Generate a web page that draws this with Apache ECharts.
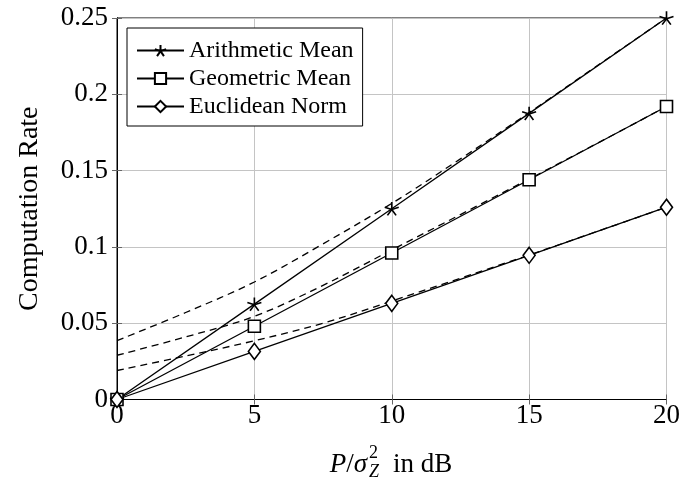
<!DOCTYPE html>
<html>
<head>
<meta charset="utf-8">
<script src="https://cdn.jsdelivr.net/npm/echarts@6/dist/echarts.min.js"></script>
<style>
html,body{margin:0;padding:0;background:#fff;}
#chart{width:683px;height:481px;}
</style>
</head>
<body>
<div id="chart"></div>
<script>
// ---- data ----
const snrDb = [0, 5, 10, 15, 20];
const arithmeticMean = [0, 0.0625, 0.125, 0.1875, 0.25];
const geometricMean = [0, 0.048, 0.096, 0.144, 0.192];
const euclideanNorm = [0, 0.0315, 0.063, 0.0945, 0.126];

const approxSnrDb = [0, 2.5, 5, 7.5, 10, 12.5, 15, 17.5, 20];
const arithmeticApprox = [0.0386, 0.0570, 0.0770, 0.1020, 0.1285, 0.1577, 0.1880, 0.2190, 0.2500];
const geometricApprox = [0.0290, 0.0410, 0.0545, 0.0748, 0.0980, 0.1212, 0.1445, 0.1681, 0.1920];
const euclideanApprox = [0.0190, 0.0285, 0.0385, 0.0500, 0.0645, 0.0795, 0.0947, 0.1103, 0.1260];

const xTicks = [0, 5, 10, 15, 20];
const yTicks = [0, 0.05, 0.1, 0.15, 0.2, 0.25];
const seriesNames = ['Arithmetic Mean', 'Geometric Mean', 'Euclidean Norm'];

// ---- chart ----
const FONT = '"Liberation Serif", "Times New Roman", serif';
const starPath = 'path://M0,0L0,-10M0,0L-9.51,-3.09M0,0L-5.88,8.09M0,0L5.88,8.09M0,0L9.51,-3.09';

function pairs(xs, ys) { return xs.map((x, i) => [x, ys[i]]); }

const chart = echarts.init(document.getElementById('chart'), null, {renderer: 'canvas'});

function solid(name, data, symbol, size) {
  return {
    name: name, type: 'line', data: pairs(snrDb, data),
    symbol: symbol, symbolSize: size, showSymbol: true, clip: false, z: 5,
    lineStyle: {color: '#000', width: 1.3},
    itemStyle: {color: '#fff', borderColor: '#000', borderWidth: 1.6},
    emphasis: {disabled: true}
  };
}
function dashed(data) {
  return {
    type: 'line', data: pairs(approxSnrDb, data), smooth: 0.35,
    symbol: 'none', z: 4, clip: false,
    lineStyle: {color: '#000', width: 1.3, type: [7, 5]},
    emphasis: {disabled: true}
  };
}

const axisCommon = {
  type: 'value',
  axisLine: {show: true, lineStyle: {color: '#000', width: 1}},
  axisTick: {show: true, inside: true, length: 5, lineStyle: {color: '#666'}},
  splitLine: {show: true, lineStyle: {color: '#c4c4c4', width: 1}}
};

const option = {
  animation: false,
  backgroundColor: '#fff',
  color: ['#000'],
  grid: {left: 117, right: 15, top: 18, bottom: 81.5, show: true, borderColor: '#000', borderWidth: 1},
  xAxis: [
    Object.assign({}, axisCommon, {
      min: xTicks[0], max: xTicks[xTicks.length - 1], interval: 5, position: 'bottom',
      axisLabel: {color: '#000', fontFamily: FONT, fontSize: 27, margin: 3,
        formatter: v => String(v)}
    }),
    Object.assign({}, axisCommon, {
      min: xTicks[0], max: xTicks[xTicks.length - 1], interval: 5, position: 'top',
      axisLabel: {show: false}, splitLine: {show: false}
    })
  ],
  yAxis: [
    Object.assign({}, axisCommon, {
      min: yTicks[0], max: yTicks[yTicks.length - 1], interval: 0.05, position: 'left',
      axisLabel: {color: '#000', fontFamily: FONT, fontSize: 27, margin: 9,
        formatter: v => String(+v.toFixed(2))},
      name: 'Computation Rate', nameLocation: 'middle', nameGap: 73,
      nameTextStyle: {color: '#000', fontFamily: FONT, fontSize: 28}
    }),
    Object.assign({}, axisCommon, {
      min: yTicks[0], max: yTicks[yTicks.length - 1], interval: 0.05, position: 'right',
      axisLabel: {show: false}, splitLine: {show: false}
    })
  ],
  legend: {
    data: seriesNames,
    orient: 'vertical', left: 127, top: 28,
    itemWidth: 47, itemHeight: 14, itemGap: 3,
    padding: [10, 9, 7, 9],
    borderColor: '#000', borderWidth: 1, borderRadius: 0,
    backgroundColor: '#fff',
    textStyle: {color: '#000', fontFamily: FONT, fontSize: 24, lineHeight: 25},
    selectedMode: false
  },
  series: [
    dashed(arithmeticApprox),
    dashed(geometricApprox),
    dashed(euclideanApprox),
    solid(seriesNames[0], arithmeticMean, starPath, [14, 13.3]),
    solid(seriesNames[1], geometricMean, 'rect', 12),
    solid(seriesNames[2], euclideanNorm, 'diamond', [12, 16])
  ],
  graphic: [
    {type: 'text', x: 367, y: 465, z: 10,
     style: {text: '{i|P}/{i|σ}', textAlign: 'right', textVerticalAlign: 'middle',
       fill: '#000', font: '27px ' + FONT,
       rich: {i: {fontStyle: 'italic', fontFamily: FONT, fontSize: 27}}}},
    {type: 'text', x: 369, y: 453, z: 10,
     style: {text: '2', textAlign: 'left', textVerticalAlign: 'middle', fill: '#000', font: '18px ' + FONT}},
    {type: 'text', x: 369, y: 472, z: 10,
     style: {text: 'Z', textAlign: 'left', textVerticalAlign: 'middle', fill: '#000', font: 'italic 18px ' + FONT}},
    {type: 'text', x: 393, y: 465, z: 10,
     style: {text: 'in dB', textAlign: 'left', textVerticalAlign: 'middle', fill: '#000', font: '27px ' + FONT}}
  ]
};
chart.setOption(option);
</script>
</body>
</html>
